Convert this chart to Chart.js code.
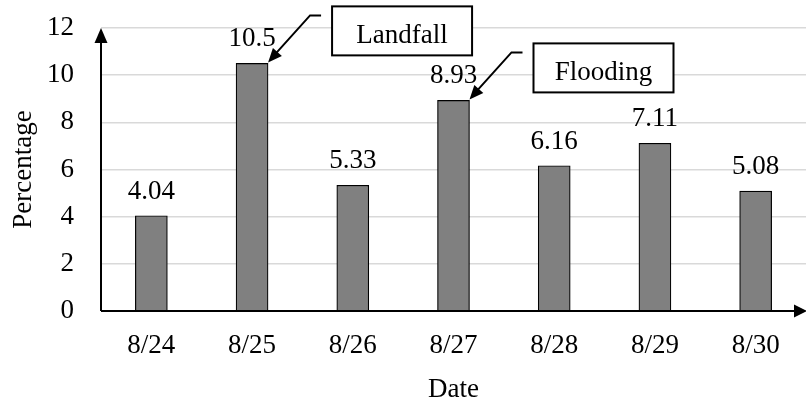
<!DOCTYPE html>
<html>
<head>
<meta charset="utf-8">
<script src="https://cdn.jsdelivr.net/npm/chart.js@4.4.1/dist/chart.umd.min.js"></script>
<style>
  html, body { margin: 0; padding: 0; background: #fff; }
  #wrap { width: 806px; height: 406px; }
</style>
</head>
<body>
<div id="wrap"><canvas id="chart"></canvas></div>
<script>
// Daily share of posts during the storm week
const dates = ['8/24', '8/25', '8/26', '8/27', '8/28', '8/29', '8/30'];
const percentages = [4.04, 10.5, 5.33, 8.93, 6.16, 7.11, 5.08];
const yTicks = [0, 2, 4, 6, 8, 10, 12];
const events = [
  { index: 1, text: 'Landfall' },
  { index: 3, text: 'Flooding' },
];

const FONT = '"Liberation Serif", "Times New Roman", serif';
const SIZE = 27;

function arrowHead(ctx, tipX, tipY, fromX, fromY, len, half) {
  const a = Math.atan2(tipY - fromY, tipX - fromX);
  ctx.beginPath();
  ctx.moveTo(tipX, tipY);
  ctx.lineTo(tipX - len * Math.cos(a) + half * Math.sin(a), tipY - len * Math.sin(a) - half * Math.cos(a));
  ctx.lineTo(tipX - len * Math.cos(a) - half * Math.sin(a), tipY - len * Math.sin(a) + half * Math.cos(a));
  ctx.closePath();
  ctx.fill();
}

// axes with arrow ends, value labels and the event call-outs
const decorations = {
  id: 'decorations',
  afterDatasetsDraw(chart) {
    const { ctx, chartArea } = chart;
    const bars = chart.getDatasetMeta(0).data;
    ctx.save();
    ctx.fillStyle = '#000';
    ctx.strokeStyle = '#000';
    ctx.font = SIZE + 'px ' + FONT;

    // value labels above bars
    ctx.textAlign = 'center';
    ctx.textBaseline = 'alphabetic';
    bars.forEach((bar, i) => {
      ctx.fillText(String(percentages[i]), bar.x, bar.y - 17);
    });

    // axis lines
    const x0 = chartArea.left;
    const y0 = chartArea.bottom;
    ctx.lineWidth = 2;
    ctx.beginPath();
    ctx.moveTo(x0, y0);
    ctx.lineTo(x0, chartArea.top + 10);
    ctx.moveTo(x0, y0);
    ctx.lineTo(chart.width - 6, y0);
    ctx.stroke();
    arrowHead(ctx, x0, chartArea.top, x0, y0, 15, 6.5);
    arrowHead(ctx, chart.width + 1, y0, x0, y0, 13, 6.5);

    // event call-outs
    events.forEach(ev => {
      const bar = bars[ev.index];
      const tipX = bar.x + bar.width / 2;
      const tipY = bar.y - 1;
      const elbowX = tipX + 42;
      const elbowY = tipY - 47;
      ctx.lineWidth = 2;
      ctx.beginPath();
      ctx.moveTo(elbowX + 11, elbowY);
      ctx.lineTo(elbowX, elbowY);
      ctx.lineTo(tipX + 6, tipY - 7);
      ctx.stroke();
      arrowHead(ctx, tipX, tipY, elbowX, elbowY, 14, 6);

      const bx = tipX + 64;
      const by = tipY - 56;
      const bw = 140;
      const bh = 49;
      ctx.fillStyle = '#fff';
      ctx.fillRect(bx, by, bw, bh);
      ctx.strokeRect(bx, by, bw, bh);
      ctx.fillStyle = '#000';
      ctx.font = SIZE + 'px ' + FONT;
      ctx.textAlign = 'center';
      ctx.fillText(ev.text, bx + bw / 2, by + 37);
    });
    ctx.restore();
  },
};

new Chart(document.getElementById('chart'), {
  type: 'bar',
  data: {
    labels: dates,
    datasets: [
      {
        label: 'Percentage',
        data: percentages,
        backgroundColor: '#808080',
        borderColor: '#000',
        borderWidth: 1.2,
        barThickness: 32,
      },
    ],
  },
  options: {
    responsive: true,
    maintainAspectRatio: false,
    animation: false,
    layout: { padding: { top: 28, right: -8, bottom: 0, left: 0 } },
    plugins: { legend: { display: false }, tooltip: { enabled: false } },
    scales: {
      x: {
        grid: { display: false, drawTicks: false },
        border: { display: false },
        ticks: { color: '#000', font: { family: FONT, size: SIZE }, padding: 19, maxRotation: 0 },
        title: { display: true, text: 'Date', color: '#000', font: { family: FONT, size: SIZE }, padding: { top: 0, bottom: 0 } },
        afterFit: (s) => { s.height = 95; s.paddingLeft = 0; s.paddingRight = 0; },
      },
      y: {
        min: 0,
        max: 12,
        afterBuildTicks: (s) => { s.ticks = yTicks.map(v => ({ value: v })); },
        grid: { color: '#d9d9d9', lineWidth: 1.5, drawTicks: false },
        border: { display: false },
        ticks: { color: '#000', font: { family: FONT, size: SIZE }, padding: 27 },
        title: { display: true, text: 'Percentage', color: '#000', font: { family: FONT, size: SIZE }, padding: { top: 8, bottom: 0 } },
        afterFit: (s) => { s.width = 101; s.paddingTop = 0; s.paddingBottom = 0; },
      },
    },
  },
  plugins: [decorations],
});
</script>
</body>
</html>
